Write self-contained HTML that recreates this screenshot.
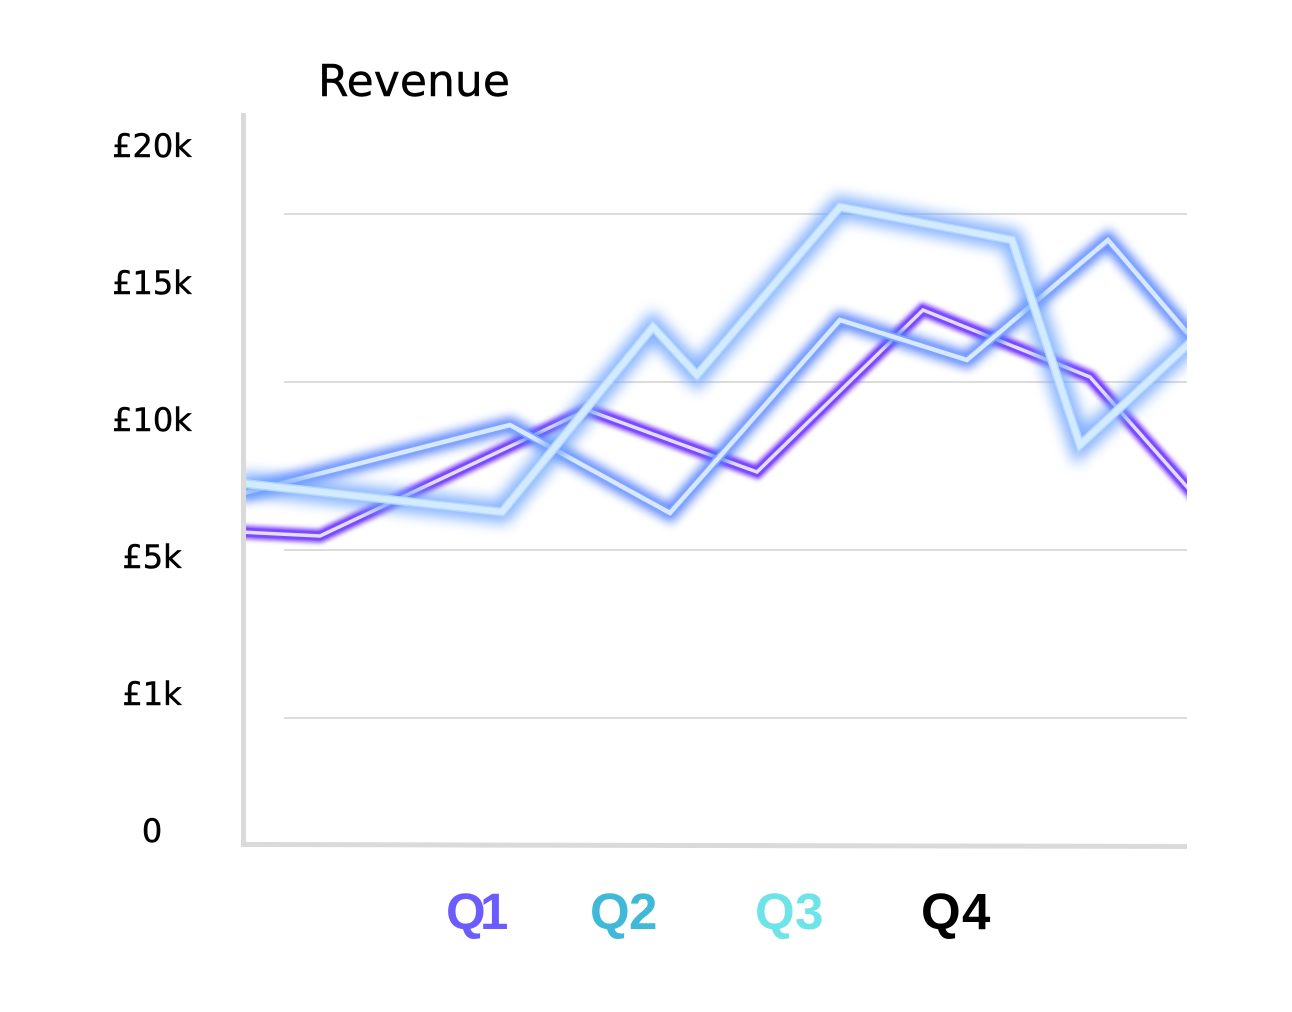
<!DOCTYPE html>
<html>
<head>
<meta charset="utf-8">
<style>
  html,body{margin:0;padding:0;background:#fff;}
  svg{display:block;}
</style>
</head>
<body>
<svg width="1292" height="1012" viewBox="0 0 1292 1012" xmlns="http://www.w3.org/2000/svg">
  <defs>
    <clipPath id="plot"><rect x="246" y="100" width="941" height="740"/></clipPath>
    <filter id="b1" x="-10%" y="-30%" width="120%" height="160%"><feGaussianBlur stdDeviation="2.5"/></filter>
    <filter id="b2" x="-10%" y="-30%" width="120%" height="160%"><feGaussianBlur stdDeviation="5"/></filter>
    <filter id="b3" x="-10%" y="-30%" width="120%" height="160%"><feGaussianBlur stdDeviation="7"/></filter>
  </defs>
  <rect width="1292" height="1012" fill="#fff"/>

  <!-- title -->
  <text x="318" y="96" font-family="DejaVu Sans, 'Liberation Sans', sans-serif" font-size="44" fill="#000" stroke="#000" stroke-width="0.4" textLength="192" lengthAdjust="spacingAndGlyphs">Revenue</text>

  <!-- y labels -->
  <g font-family="DejaVu Sans, 'Liberation Sans', sans-serif" font-size="32" fill="#000" stroke="#000" stroke-width="0.5" text-anchor="middle">
    <text x="152" y="157">£20k</text>
    <text x="152" y="294">£15k</text>
    <text x="152" y="431">£10k</text>
    <text x="152" y="568">£5k</text>
    <text x="152" y="705">£1k</text>
    <text x="152" y="842">0</text>
  </g>

  <!-- grid -->
  <g stroke="#dcdcdc" stroke-width="2">
    <line x1="284" y1="214" x2="1187" y2="214"/>
    <line x1="284" y1="382" x2="1187" y2="382"/>
    <line x1="284" y1="550" x2="1187" y2="550"/>
    <line x1="284" y1="718" x2="1187" y2="718"/>
  </g>

  <!-- series -->
  <g clip-path="url(#plot)" fill="none" stroke-linejoin="miter" stroke-linecap="butt">
    <!-- purple -->
    <polyline points="240,532 320,536 587,410 757,472 923,310 1090,377 1195,496" stroke="#7b3cff" stroke-width="13" filter="url(#b1)"/>
    <polyline points="240,532 320,536 587,410 757,472 923,310 1090,377 1195,496" stroke="#7a4bff" stroke-width="9"/>
    <polyline points="240,532 320,536 587,410 757,472 923,310 1090,377 1195,496" stroke="#e4defc" stroke-width="3.5"/>

    <!-- series 2 mid blue -->
    <polyline points="240,494 510,425 670,513 840,320 967,360 1108,240 1195,342" stroke="#4f7cff" stroke-width="16" filter="url(#b2)" opacity="0.9"/>
    <polyline points="240,494 510,425 670,513 840,320 967,360 1108,240 1195,342" stroke="#7ea4ff" stroke-width="8"/>
    <polyline points="240,494 510,425 670,513 840,320 967,360 1108,240 1195,342" stroke="#d8e9ff" stroke-width="4.5"/>

    <!-- series 3 light blue -->
    <polyline points="240,483 502,512 653,327 697,375 840,207 1012,240 1080,445 1195,338" stroke="#6fa4ff" stroke-width="22" filter="url(#b3)" opacity="0.85"/>
    <polyline points="240,483 502,512 653,327 697,375 840,207 1012,240 1080,445 1195,338" stroke="#b4d6ff" stroke-width="9"/>
    <polyline points="240,483 502,512 653,327 697,375 840,207 1012,240 1080,445 1195,338" stroke="#d3ebff" stroke-width="6"/>
  </g>

  <!-- axes -->
  <rect x="241" y="113" width="5" height="734" fill="#dadada"/>
  <polygon points="241,842 1187,844 1187,849 241,847" fill="#dadada"/>

  <!-- quarter labels -->
  <g font-family="'Liberation Sans', sans-serif" font-size="51" font-weight="bold">
    <g fill="#6c5cff">
      <text x="446" y="929">Q</text>
      <text x="480" y="929">1</text>
    </g>
    <g fill="#40b8d8">
      <text x="590" y="929">Q</text>
      <text x="629" y="929">2</text>
    </g>
    <g fill="#6ee4e8">
      <text x="755" y="929">Q</text>
      <text x="795" y="929">3</text>
    </g>
    <g fill="#000">
      <text x="921" y="929">Q</text>
      <text x="962" y="929">4</text>
    </g>
  </g>
</svg>
</body>
</html>
